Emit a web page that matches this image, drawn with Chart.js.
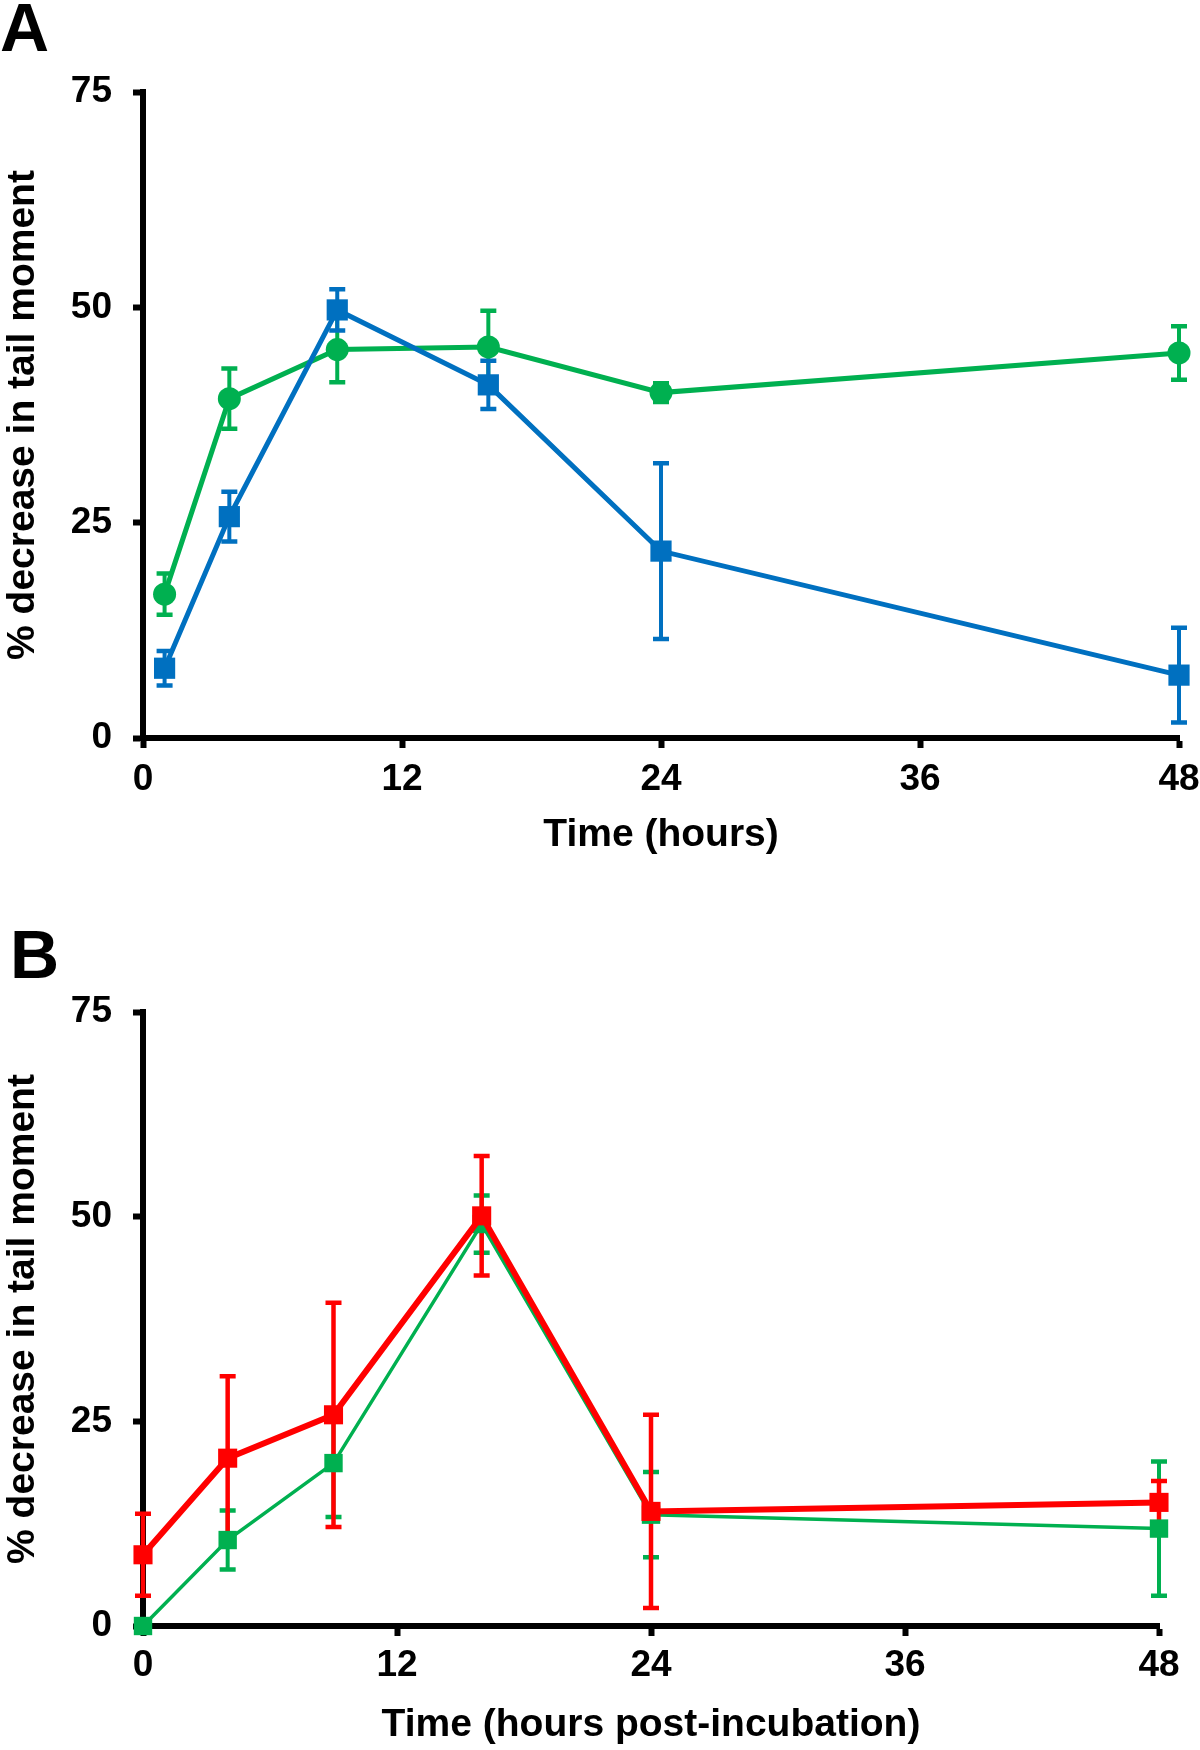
<!DOCTYPE html>
<html>
<head>
<meta charset="utf-8">
<script src="https://cdn.jsdelivr.net/npm/chart.js@4/dist/chart.umd.min.js"></script>
<style>
  html, body { margin: 0; padding: 0; background: #ffffff; }
  body { width: 1200px; height: 1750px; position: relative; overflow: hidden; }
  canvas { position: absolute; left: 0; }
  #chartA { top: 0; }
  #chartB { top: 880px; }
</style>
</head>
<body>
<canvas id="chartA" width="1200" height="880"></canvas>
<canvas id="chartB" width="1200" height="870"></canvas>
<script>
// ---------------- data ----------------
const panelLabels = ['A', 'B'];
const xTitleA = 'Time (hours)';
const xTitleB = 'Time (hours post-incubation)';
const yTitle = '% decrease in tail moment';
const xTickValues = [0, 12, 24, 36, 48];
const yTickValues = [0, 25, 50, 75];

// Panel A
const hoursA = [1, 4, 9, 16, 24, 48];
const blueA = [8.1, 25.7, 49.7, 41.0, 21.7, 7.3];
const blueErrA = [2.0, 2.9, 2.4, 2.8, 10.2, 5.5];
const greenA = [16.7, 39.4, 45.1, 45.4, 40.1, 44.7];
const greenErrA = [2.4, 3.5, 3.8, 4.2, 1.1, 3.1];

// Panel B
const hoursB = [0, 4, 9, 16, 24, 48];
const redB = [8.7, 20.5, 25.8, 50.1, 14.0, 15.1];
const redErrB = [5.0, 10.0, 13.7, 7.3, 11.8, 2.6];
const greenB = [0, 10.5, 19.9, 49.1, 13.6, 11.9];
const greenErrB = [0, 3.6, 6.6, 3.5, 5.2, 8.2];

// ---------------- styling ----------------
const BLUE = '#0070C0';
const GREEN = '#00B050';
const RED = '#FF0000';
const FONT = "'Liberation Sans', Arial, Helvetica, sans-serif";

function pts(xs, ys) { return xs.map((x, i) => ({ x: x, y: ys[i] })); }

// error bars: all drawn before any series line/marker, back series first
const errorBars = {
  id: 'errorBars',
  beforeDatasetsDraw(chart) {
    const ctx = chart.ctx;
    const xs = chart.scales.x, ys = chart.scales.y;
    const n = chart.data.datasets.length;
    for (let d = n - 1; d >= 0; d--) {
      const ds = chart.data.datasets[d];
      const err = ds.errors;
      if (!err) continue;
      ctx.save();
      ctx.strokeStyle = ds.borderColor;
      ctx.lineCap = 'butt';
      ds.data.forEach((p, i) => {
        const e = err[i];
        if (!e) return;
        const px = xs.getPixelForValue(p.x);
        const pt = ys.getPixelForValue(p.y + e);
        const pb = ys.getPixelForValue(p.y - e);
        ctx.lineWidth = ds.errWidth;
        ctx.beginPath();
        ctx.moveTo(px, pt); ctx.lineTo(px, pb);
        ctx.stroke();
        ctx.lineWidth = ds.capThickness;
        ctx.beginPath();
        ctx.moveTo(px - ds.capHalf, pt); ctx.lineTo(px + ds.capHalf, pt);
        ctx.moveTo(px - ds.capHalf, pb); ctx.lineTo(px + ds.capHalf, pb);
        ctx.stroke();
      });
      ctx.restore();
    }
  }
};

function makeOptions(cfg) {
  return {
    responsive: false,
    animation: false,
    devicePixelRatio: 1,
    events: [],
    layout: { padding: cfg.padding },
    plugins: {
      legend: { display: false },
      tooltip: { enabled: false },
      title: {
        display: true,
        text: cfg.letter,
        align: 'start',
        color: '#000',
        font: { family: FONT, size: 68, weight: 'bold', lineHeight: 0.956 },
        padding: { top: 0, bottom: cfg.titleGap }
      }
    },
    scales: {
      x: {
        type: 'linear',
        min: 0, max: 48,
        afterBuildTicks(scale) { scale.ticks = xTickValues.map(v => ({ value: v })); },
        afterFit(scale) { scale.height = cfg.xHeight; scale.paddingLeft = 0; scale.paddingRight = 0; },
        ticks: {
          color: '#000', autoSkip: false, maxRotation: 0,
          padding: cfg.xTickPad,
          font: { family: FONT, size: 37, weight: 'bold', lineHeight: 1 }
        },
        grid: { drawOnChartArea: false, drawTicks: true, tickLength: 10, tickWidth: 6, tickColor: '#000' },
        border: { display: true, color: '#000', width: 6 },
        title: {
          display: true, text: cfg.xTitle, color: '#000',
          font: { family: FONT, size: 39, weight: 'bold', lineHeight: 1 },
          padding: { top: 0, bottom: cfg.xTitlePad }
        }
      },
      y: {
        type: 'linear',
        min: 0, max: 75,
        afterBuildTicks(scale) { scale.ticks = yTickValues.map(v => ({ value: v })); },
        afterFit(scale) { scale.width = cfg.yWidth; },
        ticks: {
          color: '#000', padding: 21,
          font: { family: FONT, size: 37, weight: 'bold', lineHeight: 1 }
        },
        grid: { drawOnChartArea: false, drawTicks: true, tickLength: 10, tickWidth: 6, tickColor: '#000' },
        border: { display: true, color: '#000', width: 6 },
        title: {
          display: true, text: yTitle, color: '#000',
          font: { family: FONT, size: 39, weight: 'bold', lineHeight: 1 },
          padding: { top: cfg.yTitlePad, bottom: 0 }
        }
      }
    }
  };
}

function series(label, xs, ys, errs, color, style, radius, lineW, errW) {
  return {
    label: label,
    data: pts(xs, ys),
    errors: errs,
    errWidth: errW,
    capThickness: 4.5,
    capHalf: 8,
    borderColor: color,
    backgroundColor: color,
    borderWidth: lineW,
    pointStyle: style,
    pointRadius: radius,
    pointBackgroundColor: color,
    pointBorderColor: color,
    pointBorderWidth: 0,
    showLine: true,
    tension: 0,
    clip: false
  };
}

new Chart(document.getElementById('chartA'), {
  type: 'scatter',
  data: {
    datasets: [
      series('Blue', hoursA, blueA, blueErrA, BLUE, 'rect', 15, 5, 4),
      series('Green', hoursA, greenA, greenErrA, GREEN, 'circle', 11.5, 5, 4)
    ]
  },
  options: makeOptions({
    letter: panelLabels[0],
    padding: { top: 0, left: 0, right: 21, bottom: 0 },
    titleGap: 27,
    xHeight: 142, xTickPad: 13, xTitle: xTitleA, xTitlePad: 25,
    yWidth: 143, yTitlePad: 4
  }),
  plugins: [errorBars]
});

new Chart(document.getElementById('chartB'), {
  type: 'scatter',
  data: {
    datasets: [
      series('Red', hoursB, redB, redErrB, RED, 'rect', 13.5, 6, 4.5),
      series('Green', hoursB, greenB, greenErrB, GREEN, 'rect', 13, 3.5, 4)
    ]
  },
  options: makeOptions({
    letter: panelLabels[1],
    padding: { top: 47, left: 10, right: 41, bottom: 0 },
    titleGap: 20,
    xHeight: 124, xTickPad: 11, xTitle: xTitleB, xTitlePad: 5,
    yWidth: 133, yTitlePad: -6
  }),
  plugins: [errorBars]
});
</script>
</body>
</html>
